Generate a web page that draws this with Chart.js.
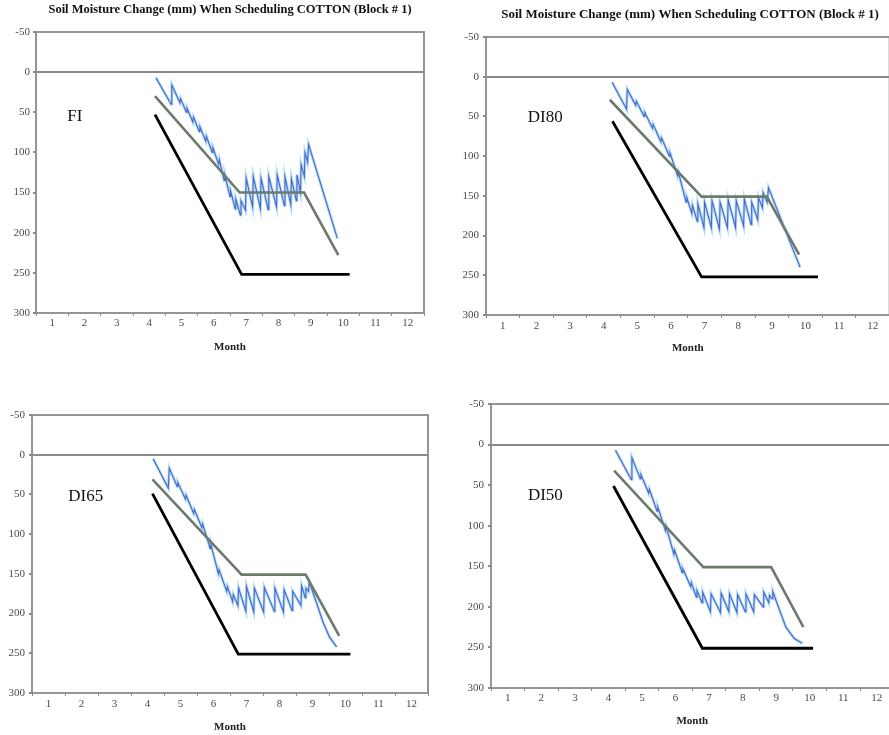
<!DOCTYPE html>
<html>
<head>
<meta charset="utf-8">
<script src="https://cdn.jsdelivr.net/npm/chart.js@4"></script>
<style>
  html, body { margin: 0; padding: 0; background: #ffffff; overflow: hidden; width: 889px; height: 735px; }
  canvas { position: absolute; }
</style>
</head>
<body>
<canvas id="pFI" width="440" height="365" style="left:0px;top:0px"></canvas>
<canvas id="pDI80" width="447" height="365" style="left:444px;top:0px"></canvas>
<canvas id="pDI65" width="440" height="365" style="left:0px;top:370px"></canvas>
<canvas id="pDI50" width="450" height="365" style="left:444px;top:370px"></canvas>
<script>
// ===== SOIL MOISTURE CHANGE - COTTON BLOCK #1 =====

const TITLE = 'Soil Moisture Change (mm) When Scheduling COTTON (Block # 1)';
const MONTH_TICKS = [1, 2, 3, 4, 5, 6, 7, 8, 9, 10, 11, 12];
const DEPTH_TICKS = [-50, 0, 50, 100, 150, 200, 250, 300];

// --- FI ---
const fiBlackMonth = [4.18, 6.86, 10.2];
const fiBlackMm = [53, 252, 252];
const fiGreenMonth = [4.18, 6.8, 8.79, 9.85];
const fiGreenMm = [30, 150, 150, 228];
const fiBlueMonth = [4.21, 4.68, 4.70, 4.95, 4.97, 5.15, 5.17, 5.35, 5.37, 5.55, 5.57, 5.75, 5.77, 5.95, 5.97, 6.15, 6.17, 6.32, 6.34, 6.5, 6.52, 6.66, 6.68, 6.82, 6.84, 6.98, 7.0, 7.2, 7.22, 7.44, 7.46, 7.68, 7.7, 7.94, 7.96, 8.18, 8.2, 8.38, 8.4, 8.55, 8.57, 8.68, 8.7, 8.8, 8.82, 8.9, 8.93, 9.82];
const fiBlueMm = [7, 40, 16, 38, 33, 50, 45, 62, 56, 74, 68, 86, 80, 100, 94, 115, 109, 135, 128, 155, 148, 170, 158, 178, 160, 172, 132, 168, 130, 170, 132, 171, 130, 168, 128, 166, 130, 165, 133, 160, 128, 150, 115, 130, 100, 112, 90, 207];

// --- DI80 ---
const di80BlackMonth = [4.26, 6.91, 10.37];
const di80BlackMm = [56, 252, 252];
const di80GreenMonth = [4.18, 6.91, 8.85, 9.81];
const di80GreenMm = [29, 151, 151, 224];
const di80BlueMonth = [4.25, 4.68, 4.70, 4.95, 4.97, 5.2, 5.22, 5.45, 5.47, 5.7, 5.72, 5.95, 5.97, 6.2, 6.22, 6.45, 6.47, 6.62, 6.64, 6.78, 6.8, 6.98, 7.0, 7.2, 7.22, 7.44, 7.46, 7.68, 7.7, 7.92, 7.94, 8.16, 8.18, 8.38, 8.4, 8.58, 8.6, 8.72, 8.74, 8.86, 8.9, 9.84];
const di80BlueMm = [7, 41, 16, 36, 31, 50, 45, 65, 60, 82, 77, 100, 96, 125, 120, 158, 152, 172, 162, 182, 160, 190, 158, 190, 156, 192, 158, 190, 155, 190, 156, 188, 154, 186, 158, 180, 152, 165, 146, 158, 140, 240];

// --- DI65 ---
const di65BlackMonth = [4.15, 6.75, 10.15];
const di65BlackMm = [49, 251, 251];
const di65GreenMonth = [4.15, 6.85, 8.79, 9.81];
const di65GreenMm = [31, 151, 151, 228];
const di65BlueMonth = [4.17, 4.63, 4.66, 4.9, 4.92, 5.15, 5.17, 5.4, 5.42, 5.65, 5.67, 5.9, 5.92, 6.15, 6.17, 6.4, 6.42, 6.58, 6.6, 6.74, 6.76, 6.98, 7.0, 7.22, 7.24, 7.52, 7.54, 7.84, 7.86, 8.12, 8.14, 8.38, 8.4, 8.65, 8.67, 8.78, 8.8, 8.88, 8.9, 9.12, 9.32, 9.52, 9.73];
const di65BlueMm = [5, 42, 17, 40, 35, 56, 51, 74, 69, 92, 87, 118, 113, 150, 145, 172, 166, 185, 176, 190, 168, 197, 166, 198, 168, 198, 167, 197, 168, 198, 170, 196, 172, 190, 165, 180, 168, 172, 160, 186, 211, 230, 242];

// --- DI50 ---
const di50BlackMonth = [4.15, 6.8, 10.1];
const di50BlackMm = [51, 251, 251];
const di50GreenMonth = [4.17, 6.83, 8.85, 9.81];
const di50GreenMm = [32, 151, 151, 225];
const di50BlueMonth = [4.21, 4.68, 4.7, 4.95, 4.97, 5.2, 5.22, 5.45, 5.47, 5.7, 5.72, 5.95, 5.97, 6.2, 6.22, 6.45, 6.47, 6.62, 6.64, 6.79, 6.81, 7.04, 7.06, 7.34, 7.36, 7.59, 7.61, 7.83, 7.85, 8.08, 8.1, 8.33, 8.35, 8.61, 8.63, 8.78, 8.8, 8.88, 8.9, 9.1, 9.29, 9.54, 9.78];
const di50BlueMm = [7, 43, 16, 42, 37, 60, 55, 82, 77, 106, 101, 135, 130, 158, 153, 175, 170, 188, 180, 195, 182, 206, 184, 207, 183, 206, 184, 207, 185, 206, 184, 206, 185, 200, 182, 195, 186, 190, 181, 204, 225, 239, 245];

const COLORS = {
  black: '#000000',
  green: '#6c7b6c',
  blue: '#4766c8',
  blueHalo: 'rgba(150,205,245,0.7)',
  frame: '#8a8a8a',
  tick: '#4a4a4a',
};

const SERIF = "'Liberation Serif', 'DejaVu Serif', serif";

function pts(months, mm) {
  return months.map((m, i) => ({ x: m, y: mm[i] }));
}

// frame round the plot area, chart title and treatment label
const panelDecor = {
  id: 'panelDecor',
  beforeDatasetsDraw(chart) {
    const { ctx, chartArea: a } = chart;
    ctx.save();
    ctx.strokeStyle = COLORS.frame;
    ctx.lineWidth = 1.8;
    ctx.strokeRect(a.left, a.top, a.right - a.left, a.bottom - a.top);
    ctx.restore();
  },
  afterDatasetsDraw(chart, args, opts) {
    const { ctx, scales } = chart;
    ctx.save();
    ctx.fillStyle = '#111';
    ctx.textBaseline = 'middle';
    if (opts.title) {
      ctx.font = 'bold ' + opts.titleSize + 'px ' + SERIF;
      ctx.textAlign = 'center';
      ctx.fillText(opts.title, opts.titleX, opts.titleY);
    }
    if (opts.label) {
      ctx.font = '17px ' + SERIF;
      ctx.textAlign = 'left';
      ctx.fillText(opts.label, scales.x.getPixelForValue(opts.labelX), scales.y.getPixelForValue(opts.labelY));
    }
    ctx.restore();
  }
};

function makePanel(id, cfg) {
  const el = document.getElementById(id);
  // dataset 0 is drawn on top
  new Chart(el, {
    type: 'line',
    data: {
      datasets: [
        { data: pts(cfg.green[0], cfg.green[1]), borderColor: COLORS.green, borderWidth: 2.6 },
        { data: pts(cfg.blue[0], cfg.blue[1]), borderColor: COLORS.blue, borderWidth: 1.1 },
        { data: pts(cfg.blue[0], cfg.blue[1]), borderColor: COLORS.blueHalo, borderWidth: 3 },
        { data: pts(cfg.black[0], cfg.black[1]), borderColor: COLORS.black, borderWidth: 2.8 },
      ]
    },
    options: {
      responsive: false,
      animation: false,
      elements: { point: { radius: 0 }, line: { tension: 0 } },
      layout: { padding: { left: 0, right: cfg.padRight, top: cfg.padTop, bottom: 0 } },
      plugins: {
        legend: { display: false },
        tooltip: { enabled: false },
        panelDecor: {
          title: cfg.title, titleSize: cfg.titleSize, titleX: cfg.titleX, titleY: cfg.titleY,
          label: cfg.label, labelX: cfg.labelX, labelY: cfg.labelY,
        },
      },
      scales: {
        x: {
          type: 'linear',
          min: 0.5,
          max: 12.5,
          afterBuildTicks: (s) => {
            const t = [];
            MONTH_TICKS.forEach(m => { t.push({ value: m - 0.5 }); t.push({ value: m }); });
            t.push({ value: 12.5 });
            s.ticks = t;
          },
          afterFit: (s) => { s.height = cfg.xH; },
          border: { display: false },
          grid: {
            drawOnChartArea: false,
            drawTicks: true,
            tickLength: 3,
            tickColor: (c) => Number.isInteger(c.tick.value) ? 'rgba(0,0,0,0)' : COLORS.frame,
          },
          ticks: {
            autoSkip: false,
            maxRotation: 0,
            padding: cfg.xPad,
            color: COLORS.tick,
            font: { family: SERIF, size: 11 },
            callback: (v) => Number.isInteger(v) ? String(v) : '',
          },
          title: {
            display: true,
            text: 'Month',
            color: '#222',
            font: { family: SERIF, size: 11, weight: 'bold' },
            padding: { top: 0, bottom: cfg.monthPad },
          }
        },
        y: {
          type: 'linear',
          reverse: true,
          min: -50,
          max: 300,
          afterBuildTicks: (s) => { s.ticks = DEPTH_TICKS.map(v => ({ value: v })); },
          afterFit: (s) => { s.width = cfg.yW; },
          border: { display: false },
          grid: {
            color: (c) => c.tick && c.tick.value === 0 ? '#8a8a8a' : 'rgba(0,0,0,0)',
            lineWidth: 2,
            drawTicks: true,
            tickLength: 3,
            tickColor: COLORS.frame,
          },
          ticks: {
            padding: cfg.yPad,
            color: COLORS.tick,
            font: { family: SERIF, size: 11 },
          }
        }
      }
    },
    plugins: [panelDecor]
  });
}

makePanel('pFI', {
  black: [fiBlackMonth, fiBlackMm], green: [fiGreenMonth, fiGreenMm], blue: [fiBlueMonth, fiBlueMm],
  title: TITLE, titleSize: 12.5, titleX: 230, titleY: 10, padTop: 32, padRight: 16,
  yW: 36, yPad: 3, xH: 52, xPad: 1, monthPad: 11.4,
  label: 'FI', labelX: 1.47, labelY: 55,
});

makePanel('pDI80', {
  black: [di80BlackMonth, di80BlackMm], green: [di80GreenMonth, di80GreenMm], blue: [di80BlueMonth, di80BlueMm],
  title: TITLE, titleSize: 13, titleX: 246, titleY: 15, padTop: 37, padRight: 0,
  yW: 42, yPad: 4, xH: 50, xPad: 1.4, monthPad: 10.4,
  label: 'DI80', labelX: 1.74, labelY: 52,
});

makePanel('pDI65', {
  black: [di65BlackMonth, di65BlackMm], green: [di65GreenMonth, di65GreenMm], blue: [di65BlueMonth, di65BlueMm],
  title: null, padTop: 45, padRight: 12,
  yW: 32, yPad: 4, xH: 42, xPad: 1.4, monthPad: 1.4,
  label: 'DI65', labelX: 1.6, labelY: 53,
});

makePanel('pDI50', {
  black: [di50BlackMonth, di50BlackMm], green: [di50GreenMonth, di50GreenMm], blue: [di50BlueMonth, di50BlueMm],
  title: null, padTop: 34, padRight: 0,
  yW: 47, yPad: 4, xH: 47, xPad: 0.4, monthPad: 7.4,
  label: 'DI50', labelX: 1.6, labelY: 63,
});
</script>
</body>
</html>
